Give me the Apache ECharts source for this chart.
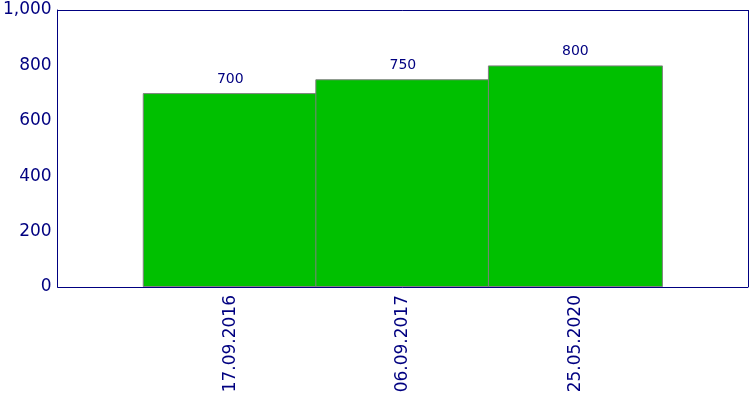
<!DOCTYPE html>
<html>
<head>
<meta charset="utf-8">
<script src="https://cdn.jsdelivr.net/npm/echarts@6/dist/echarts.min.js"></script>
</head>
<body style="margin:0">
<div id="main" style="width:750px;height:400px;"></div>
<script>
var categories = ['17.09.2016', '06.09.2017', '25.05.2020'];
var values = [700, 750, 800];
var yTicks = [0, 200, 400, 600, 800, 1000];

var navy = '#000080';
var chart = echarts.init(document.getElementById('main'));
chart.setOption({
  animation: false,
  grid: { left: 49, right: 2, top: 10, bottom: 113 },
  xAxis: {
    type: 'value', min: 0, max: categories.length + 1, interval: 1,
    axisLine: { show: true, lineStyle: { color: navy } },
    axisTick: { show: false }, splitLine: { show: false },
    axisLabel: {
      rotate: 90, color: navy, fontSize: 17, fontFamily: 'DejaVu Sans', margin: 8,
      formatter: function (v) { return categories[v - 1] || ''; }
    }
  },
  yAxis: {
    type: 'value', min: yTicks[0], max: yTicks[yTicks.length - 1], interval: 200,
    axisLine: { show: true, lineStyle: { color: navy } },
    axisTick: { show: false }, splitLine: { show: false },
    axisLabel: { color: navy, fontSize: 17, fontFamily: 'DejaVu Sans', margin: 6 }
  },
  series: [{
    type: 'bar',
    barWidth: 175,
    data: values.map(function (v, i) { return [i + 1, v]; }),
    itemStyle: { color: '#00c000', borderColor: '#808080', borderWidth: 1 },
    label: {
      show: true, position: 'top', distance: 7, color: navy, fontSize: 14, fontFamily: 'DejaVu Sans',
      formatter: function (p) { return p.value[1]; }
    }
  }, {
    type: 'line', data: [], markLine: {
      silent: true, symbol: 'none', label: { show: false },
      lineStyle: { color: navy, type: 'solid', width: 1 },
      data: [[{ xAxis: 0, yAxis: 1000 }, { xAxis: 4, yAxis: 1000 }], [{ xAxis: 4, yAxis: 0 }, { xAxis: 4, yAxis: 1000 }]]
    }
  }]
});
</script>
</body>
</html>
